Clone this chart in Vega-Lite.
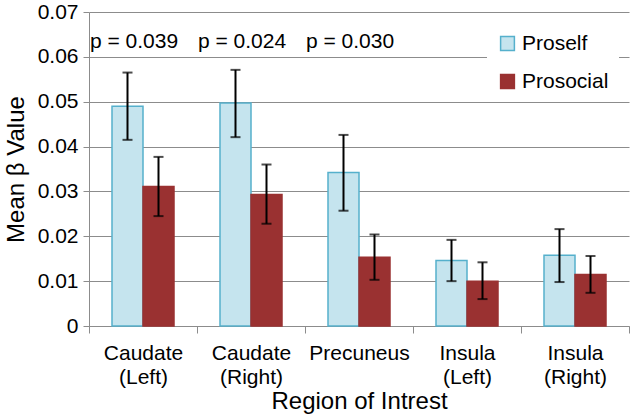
{
  "$schema": "https://vega.github.io/schema/vega-lite/v6.json",
  "width": 540,
  "height": 314,
  "autosize": {"type": "none"},
  "padding": {"left": 89, "top": 12, "right": 4, "bottom": 91},
  "background": "white",
  "config": {
    "font": "Liberation Sans",
    "view": {"stroke": null}
  },
  "datasets": {
    "bars": [
      {"region": "Caudate (Left)", "group": "Proself", "value": 0.0490, "lo": 0.0415, "hi": 0.0565},
      {"region": "Caudate (Left)", "group": "Prosocial", "value": 0.0311, "lo": 0.0245, "hi": 0.0377},
      {"region": "Caudate (Right)", "group": "Proself", "value": 0.0497, "lo": 0.0421, "hi": 0.0571},
      {"region": "Caudate (Right)", "group": "Prosocial", "value": 0.0293, "lo": 0.0228, "hi": 0.0360},
      {"region": "Precuneus", "group": "Proself", "value": 0.0342, "lo": 0.0257, "hi": 0.0426},
      {"region": "Precuneus", "group": "Prosocial", "value": 0.0153, "lo": 0.0103, "hi": 0.0204},
      {"region": "Insula (Left)", "group": "Proself", "value": 0.0146, "lo": 0.0100, "hi": 0.0192},
      {"region": "Insula (Left)", "group": "Prosocial", "value": 0.0100, "lo": 0.0060, "hi": 0.0142},
      {"region": "Insula (Right)", "group": "Proself", "value": 0.0158, "lo": 0.0098, "hi": 0.0216},
      {"region": "Insula (Right)", "group": "Prosocial", "value": 0.0115, "lo": 0.0074, "hi": 0.0156}
    ],
    "pvals": [
      {"region": "Caudate (Left)", "label": "p = 0.039"},
      {"region": "Caudate (Right)", "label": "p = 0.024"},
      {"region": "Precuneus", "label": "p = 0.030"}
    ]
  },
  "encoding": {
    "x": {
      "field": "region",
      "type": "nominal",
      "sort": ["Caudate (Left)", "Caudate (Right)", "Precuneus", "Insula (Left)", "Insula (Right)"],
      "scale": {"paddingInner": 0, "paddingOuter": 0},
      "axis": {
        "title": "Region of Intrest",
        "titleFontSize": 24,
        "titleFontWeight": "normal",
        "titleColor": "black",
        "titlePadding": 2,
        "labelFontSize": 21,
        "labelColor": "black",
        "labelAngle": 0,
        "labelLineHeight": 24,
        "labelPadding": 9,
        "labelExpr": "split(datum.label, ' ')",
        "tickBand": "extent",
        "tickSize": 7,
        "tickColor": "#8c8c8c",
        "domainColor": "#8c8c8c",
        "grid": false
      }
    }
  },
  "layer": [
    {
      "data": {"name": "bars"},
      "mark": {"type": "bar", "strokeWidth": 1.5},
      "encoding": {
        "xOffset": {"field": "group", "type": "nominal", "scale": {"paddingInner": 0, "paddingOuter": 0.742}},
        "y": {
          "field": "value",
          "type": "quantitative",
          "scale": {"domain": [0, 0.07], "nice": false},
          "axis": {
            "title": "Mean β Value",
            "titleFontSize": 24,
            "titleFontWeight": "normal",
            "titleColor": "black",
            "titlePadding": 9,
            "labelFontSize": 21,
            "labelColor": "black",
            "labelPadding": 5,
            "values": [0, 0.01, 0.02, 0.03, 0.04, 0.05, 0.06, 0.07],
            "labelExpr": "datum.value == 0 ? '0' : format(datum.value, '.2f')",
            "tickSize": 6,
            "tickColor": "#8c8c8c",
            "domainColor": "#8c8c8c",
            "grid": true,
            "gridColor": "#8c8c8c",
            "gridWidth": 1
          }
        },
        "color": {
          "field": "group",
          "type": "nominal",
          "scale": {"domain": ["Proself", "Prosocial"], "range": ["#c5e4ee", "#9a3131"]},
          "legend": {
            "title": null,
            "orient": "none",
            "legendX": 398,
            "legendY": 11,
            "padding": 10,
            "fillColor": "white",
            "symbolType": "square",
            "symbolSize": 190,
            "symbolStrokeWidth": 1.5,
            "labelFontSize": 21,
            "labelColor": "black",
            "labelOffset": 4,
            "rowPadding": 16
          }
        },
        "stroke": {
          "field": "group",
          "type": "nominal",
          "scale": {"domain": ["Proself", "Prosocial"], "range": ["#55b0cc", "#9a3131"]},
          "legend": null
        }
      }
    },
    {
      "data": {"name": "bars"},
      "mark": {"type": "rule", "color": "black", "strokeWidth": 2},
      "encoding": {
        "xOffset": {"field": "group", "type": "nominal", "scale": {"paddingInner": 0, "paddingOuter": 0.742}},
        "y": {"field": "lo", "type": "quantitative"},
        "y2": {"field": "hi"}
      }
    },
    {
      "data": {"name": "bars"},
      "mark": {"type": "tick", "color": "black", "thickness": 2, "size": 10, "orient": "horizontal"},
      "encoding": {
        "xOffset": {"field": "group", "type": "nominal", "scale": {"paddingInner": 0, "paddingOuter": 0.742}},
        "y": {"field": "lo", "type": "quantitative"}
      }
    },
    {
      "data": {"name": "bars"},
      "mark": {"type": "tick", "color": "black", "thickness": 2, "size": 10, "orient": "horizontal"},
      "encoding": {
        "xOffset": {"field": "group", "type": "nominal", "scale": {"paddingInner": 0, "paddingOuter": 0.742}},
        "y": {"field": "hi", "type": "quantitative"}
      }
    },
    {
      "data": {"name": "pvals"},
      "mark": {"type": "text", "fontSize": 21, "color": "black", "align": "center", "baseline": "middle", "dx": -9},
      "encoding": {
        "y": {"datum": 0.0633},
        "text": {"field": "label"}
      }
    }
  ]
}
